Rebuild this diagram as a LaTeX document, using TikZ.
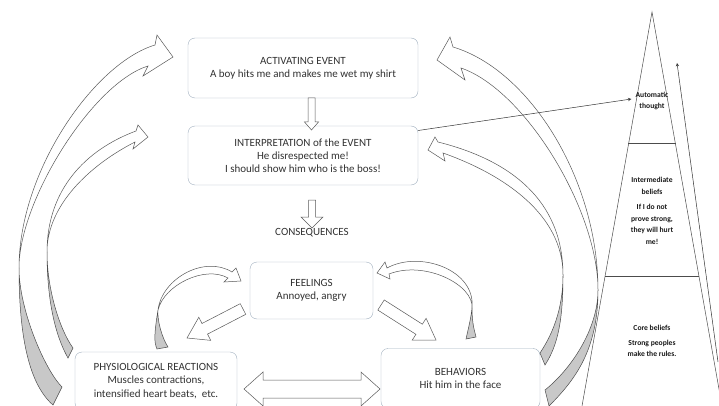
\documentclass[tikz,border=0pt]{standalone}
\usepackage{fontspec}
\setmainfont{Carlito}
\usepackage{tikz}
\usetikzlibrary{calc, positioning, arrows}
\definecolor{boxline}{RGB}{160,175,190}
\definecolor{txt}{RGB}{50,50,50}
\definecolor{ribbon}{RGB}{200,200,200}
\tikzstyle{box}=[draw=boxline, rounded corners=7pt, fill=white, align=center, text=txt, font=\fontsize{11}{13.2}\selectfont, inner sep=2pt]
\tikzstyle{fat}=[draw=black!65, fill=white, line width=0.5pt]
\tikzstyle{back}=[draw=black!70, fill=ribbon, line width=0.5pt]
\tikzstyle{lvl}=[align=center, font=\fontsize{7.6}{11.5}\selectfont\bfseries, text=black!90, inner sep=1pt]
\tikzset{>=stealth}
\newcommand{\blockarrow}[5]{% tail, tip, half shaft, half head, head length
\coordinate (ba-n) at ($(#2)!#5!(#1)$);
\draw[fat] ($(#1)!#3!90:(#2)$) -- ($(ba-n)!#3!90:(#2)$) -- ($(ba-n)!#4!90:(#2)$) -- (#2)
  -- ($(ba-n)!#4!-90:(#2)$) -- ($(ba-n)!#3!-90:(#2)$) -- ($(#1)!#3!-90:(#2)$) -- cycle;
}
\newcommand{\doublearrow}[5]{% tip, tip, half shaft, half head, head length
\coordinate (da-a) at ($(#1)!#5!(#2)$);
\coordinate (da-b) at ($(#2)!#5!(#1)$);
\draw[fat] (#1) -- ($(da-a)!#4!90:(#2)$) -- ($(da-a)!#3!90:(#2)$) -- ($(da-b)!#3!90:(#2)$)
  -- ($(da-b)!#4!90:(#2)$) -- (#2) -- ($(da-b)!#4!-90:(#2)$) -- ($(da-b)!#3!-90:(#2)$)
  -- ($(da-a)!#3!-90:(#2)$) -- ($(da-a)!#4!-90:(#2)$) -- cycle;
}
\begin{document}
\begin{tikzpicture}[x=1pt, y=-1pt]
\useasboundingbox (0,0) rectangle (719,406);
\clip (0,0) rectangle (719,406);

% boxes
\node[box, minimum width=230, minimum height=60] (act) at (303,68) {ACTIVATING EVENT\\A boy hits me and makes me wet my shirt};
\node[box, minimum width=230, minimum height=59] (interp) at (303,155.5) {INTERPRETATION of the EVENT\\He disrespected me!\\I should show him who is the boss!};
\node[text=txt, font=\fontsize{11}{13}\selectfont, inner sep=0pt] (cons) at (312,233) {CONSEQUENCES};
\node[box, minimum width=123, minimum height=57] (feel) at (311.5,290.5) {FEELINGS\\Annoyed, angry};
\node[box, minimum width=162, minimum height=58] (phys) at (156,381) {PHYSIOLOGICAL REACTIONS\\Muscles contractions,\\intensified heart beats,\ \ etc.};
\node[box, minimum width=159, minimum height=60] (beh) at (460.5,378.5) {BEHAVIORS\\Hit him in the face};

% straight block arrows
\coordinate (a0) at (311.5,98);
\coordinate (a1) at (311.5,130);
\blockarrow{a0}{a1}{3.5pt}{7pt}{8pt}
\coordinate (c0) at (312,200);
\coordinate (c1) at (312,228);
\blockarrow{c0}{c1}{3.5pt}{11pt}{11pt}
\coordinate (f0) at (243,309);
\coordinate (f1) at (187,338);
\blockarrow{f0}{f1}{6pt}{13pt}{20pt}
\coordinate (g0) at (381,305);
\coordinate (g1) at (436,340);
\blockarrow{g0}{g1}{6pt}{13pt}{20pt}
\coordinate (d0) at (244,389);
\coordinate (d1) at (380,389);
\doublearrow{d0}{d1}{9pt}{17pt}{19pt}

% big curved arrows, left
\filldraw[fat] (155,45) .. controls (95,63) and (19,170) .. (19,268) .. controls (19,200) and (93,83) .. (148,66)
  -- (143,76) -- (173,57) -- (157,35) -- cycle;
\filldraw[back] (19,268) .. controls (19,340) and (30,385) .. (53,405) -- (62,387) .. controls (45,370) and (19,310) .. (19,268) -- cycle;
\filldraw[fat] (136,131) .. controls (85,150) and (47,190) .. (47,252) .. controls (47,205) and (90,165) .. (135,142)
  -- (133,149) -- (148,137) -- (138,125) -- cycle;
\filldraw[back] (47,252) .. controls (47,300) and (55,335) .. (68,358) -- (73,348) .. controls (60,330) and (47,290) .. (47,252) -- cycle;

% big curved arrows, right
\filldraw[fat] (453,47) .. controls (530,70) and (598,180) .. (598,290) .. controls (598,210) and (525,90) .. (461,68)
  -- (465,80) -- (437,60) -- (450,37) -- cycle;
\filldraw[back] (598,290) .. controls (598,350) and (575,380) .. (549,406) -- (545,390) .. controls (570,370) and (598,330) .. (598,290) -- cycle;
\filldraw[fat] (438,142) .. controls (510,160) and (563,200) .. (563,275) .. controls (563,215) and (505,175) .. (443,153)
  -- (445,161) -- (428,150) -- (435,137) -- cycle;
\filldraw[back] (563,275) .. controls (563,320) and (558,345) .. (545,365) -- (540,353) .. controls (552,335) and (563,310) .. (563,275) -- cycle;

% small curved arrows
\filldraw[fat] (232,272) .. controls (205,255) and (162,278) .. (158,310) .. controls (164,285) and (205,265) .. (228,278)
  -- (224,282) -- (241,281) -- (236,268) -- cycle;
\filldraw[back] (158,310) .. controls (154,335) and (154,342) .. (157,349) -- (168,347) .. controls (162,338) and (157,320) .. (158,310) -- cycle;
\filldraw[fat] (387,268) .. controls (420,250) and (476,270) .. (472,308) .. controls (474,285) and (425,260) .. (389,274)
  -- (390,279) -- (377,273) -- (385,262) -- cycle;
\filldraw[back] (472,308) .. controls (471,318) and (468,330) .. (466,339) -- (476,337) .. controls (475,332) and (472,325) .. (472,308) -- cycle;

% pyramid
\coordinate (apex) at (652,12);
\draw[black!70, line width=0.5pt] (582,406) -- (apex) -- (722,406);
\draw[black!70, line width=0.5pt] (628,143) -- (676,143);
\draw[black!70, line width=0.5pt] (605,276) -- (699,276);
\node[lvl] (auto) at (652,101) {Automatic\\thought};
\node[lvl] (mid) at (652,211) {Intermediate\\beliefs\\[4pt]If I do not\\prove strong,\\they will hurt\\me!};
\node[lvl] (core) at (652,341) {Core beliefs\\[3pt]Strong peoples\\make the rules.};
\coordinate (up0) at (718,362);
\coordinate (up1) at (677,63);
\draw[->, black!80, line width=0.5pt] (up0) -- (up1);
\draw[->, black!80, line width=0.5pt] ($(interp.east)+(0,-25)$) -- ($(auto.west)+(-3,-2)$);
\end{tikzpicture}
\end{document}
